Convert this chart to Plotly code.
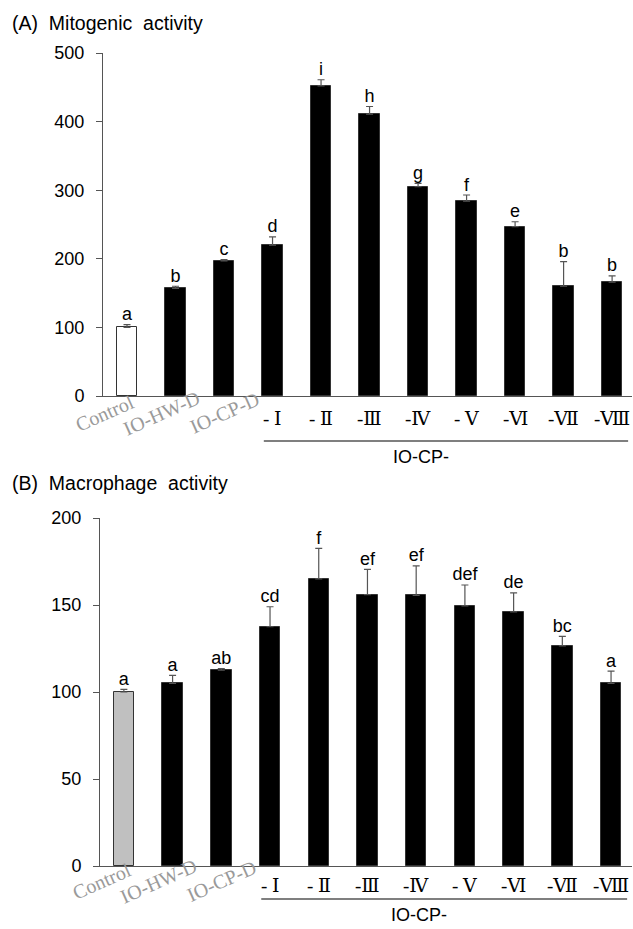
import plotly.graph_objects as go

# ---------------- data ----------------
categories = ["Control", "IO-HW-D", "IO-CP-D", "- Ⅰ", "- Ⅱ", "-Ⅲ", "-Ⅳ", "- Ⅴ", "-Ⅵ", "-Ⅶ", "-Ⅷ"]
group_label = "IO-CP-"

mitogenic_values = [100, 157, 197, 220, 452, 411, 305, 284, 247, 160, 166]
mitogenic_errors = [4, 3, 2, 12, 9, 11, 5, 9, 7, 36, 9]
mitogenic_letters = ["a", "b", "c", "d", "i", "h", "g", "f", "e", "b", "b"]

macrophage_values = [100, 105, 112.5, 137.5, 165, 156, 155.5, 149.5, 146, 126.5, 105]
macrophage_errors = [1.5, 4.5, 1, 11.5, 17.5, 14.5, 17, 12, 11, 5.5, 7]
macrophage_letters = ["a", "a", "ab", "cd", "f", "ef", "ef", "def", "de", "bc", "a"]

mitogenic_ticks = [0, 100, 200, 300, 400, 500]
macrophage_ticks = [0, 50, 100, 150, 200]

# ---------------- figure ----------------
W, H = 633, 929
SANS = "Liberation Sans, Arial, sans-serif"
SERIF = "Liberation Serif, DejaVu Serif, Noto Sans CJK KR, serif"
xs = list(range(len(categories)))

fig = go.Figure()

panels = [
    dict(vals=mitogenic_values, errs=mitogenic_errors, letters=mitogenic_letters,
         ctrl_color="white", xa="x", ya="y", title="(A)  Mitogenic  activity"),
    dict(vals=macrophage_values, errs=macrophage_errors, letters=macrophage_letters,
         ctrl_color="#c0c0c0", xa="x2", ya="y2", title="(B)  Macrophage  activity"),
]

for p in panels:
    colors = [p["ctrl_color"]] + ["black"] * (len(categories) - 1)
    fig.add_trace(go.Bar(
        x=xs, y=p["vals"], width=0.42,
        marker=dict(color=colors, line=dict(color="#333333", width=1)),
        error_y=dict(type="data", array=p["errs"], arrayminus=[0] * len(p["errs"]),
                     symmetric=False, color="#555555", thickness=1.2, width=3.5),
        xaxis=p["xa"], yaxis=p["ya"], showlegend=False, hoverinfo="skip",
    ))
    fig.add_trace(go.Scatter(
        x=xs, y=[v + e for v, e in zip(p["vals"], p["errs"])],
        mode="text", text=p["letters"], textposition="top center",
        textfont=dict(family=SANS, size=18, color="black"),
        xaxis=p["xa"], yaxis=p["ya"], showlegend=False, hoverinfo="skip",
    ))


def py(pix):
    return 1 - pix / H


top_dom = [py(396), py(53)]
bot_dom = [py(866), py(518)]

axis_common = dict(showgrid=False, zeroline=False, showline=True, linecolor="#555555",
                   linewidth=1)
yfont = dict(family=SANS, size=18, color="black")
fig.update_layout(
    width=W, height=H, margin=dict(l=0, r=0, t=0, b=0, autoexpand=False),
    paper_bgcolor="white", plot_bgcolor="white", bargap=0,
    xaxis=dict(domain=[103 / W, 632 / W], range=[-0.495, 10.41], anchor="y",
               showticklabels=False, ticks="", **axis_common),
    yaxis=dict(domain=top_dom, range=[0, 500], anchor="x", tickvals=mitogenic_ticks,
               ticks="outside", ticklen=6, tickcolor="#555555", ticklabelstandoff=8,
               tickfont=yfont, **axis_common),
    xaxis2=dict(domain=[100 / W, 632 / W], range=[-0.49, 10.43], anchor="y2",
                showticklabels=False, ticks="", **axis_common),
    yaxis2=dict(domain=bot_dom, range=[0, 200], anchor="x2", tickvals=macrophage_ticks,
                ticks="outside", ticklen=6, tickcolor="#555555", ticklabelstandoff=8,
                tickfont=yfont, **axis_common),
)

annotations = []
shapes = []
for p, ty in zip(panels, [23, 483]):
    annotations.append(dict(text=p["title"], x=10 / W, y=py(ty), xref="paper", yref="paper",
                            xanchor="left", yanchor="middle", showarrow=False,
                            font=dict(family=SANS, size=19.5, color="black")))

rot_shift = [-22, -14, 0]          # horizontal offsets of rotated labels (px)
for xa, label_y, rot_y, line_y, grp_y in [("x", 418, 413, 441, 457), ("x2", 885, 881, 899, 915)]:
    for i, cat in enumerate(categories):
        if i < 3:
            annotations.append(dict(text=cat, x=i, y=py(rot_y), xref=xa, yref="paper",
                                    xshift=rot_shift[i], textangle=-24, showarrow=False,
                                    xanchor="center", yanchor="middle",
                                    font=dict(family=SERIF, size=20, color="#9a9a9a")))
        else:
            annotations.append(dict(text=cat, x=i, y=py(label_y), xref=xa, yref="paper",
                                    showarrow=False, xanchor="center", yanchor="middle",
                                    font=dict(family=SERIF, size=19, color="black")))
    shapes.append(dict(type="line", xref=xa, yref="paper", x0=2.82, x1=10.33,
                       y0=py(line_y), y1=py(line_y), line=dict(color="black", width=1.2)))
    annotations.append(dict(text=group_label, x=6.05, y=py(grp_y), xref=xa, yref="paper",
                            showarrow=False, xanchor="center", yanchor="middle",
                            font=dict(family=SANS, size=18, color="black")))

fig.update_layout(annotations=annotations, shapes=shapes)

fig.write_html(
    "out.html",
    config={"displayModeBar": False},
    post_script="document.body.style.margin='0';document.body.style.overflow='hidden';",
)
